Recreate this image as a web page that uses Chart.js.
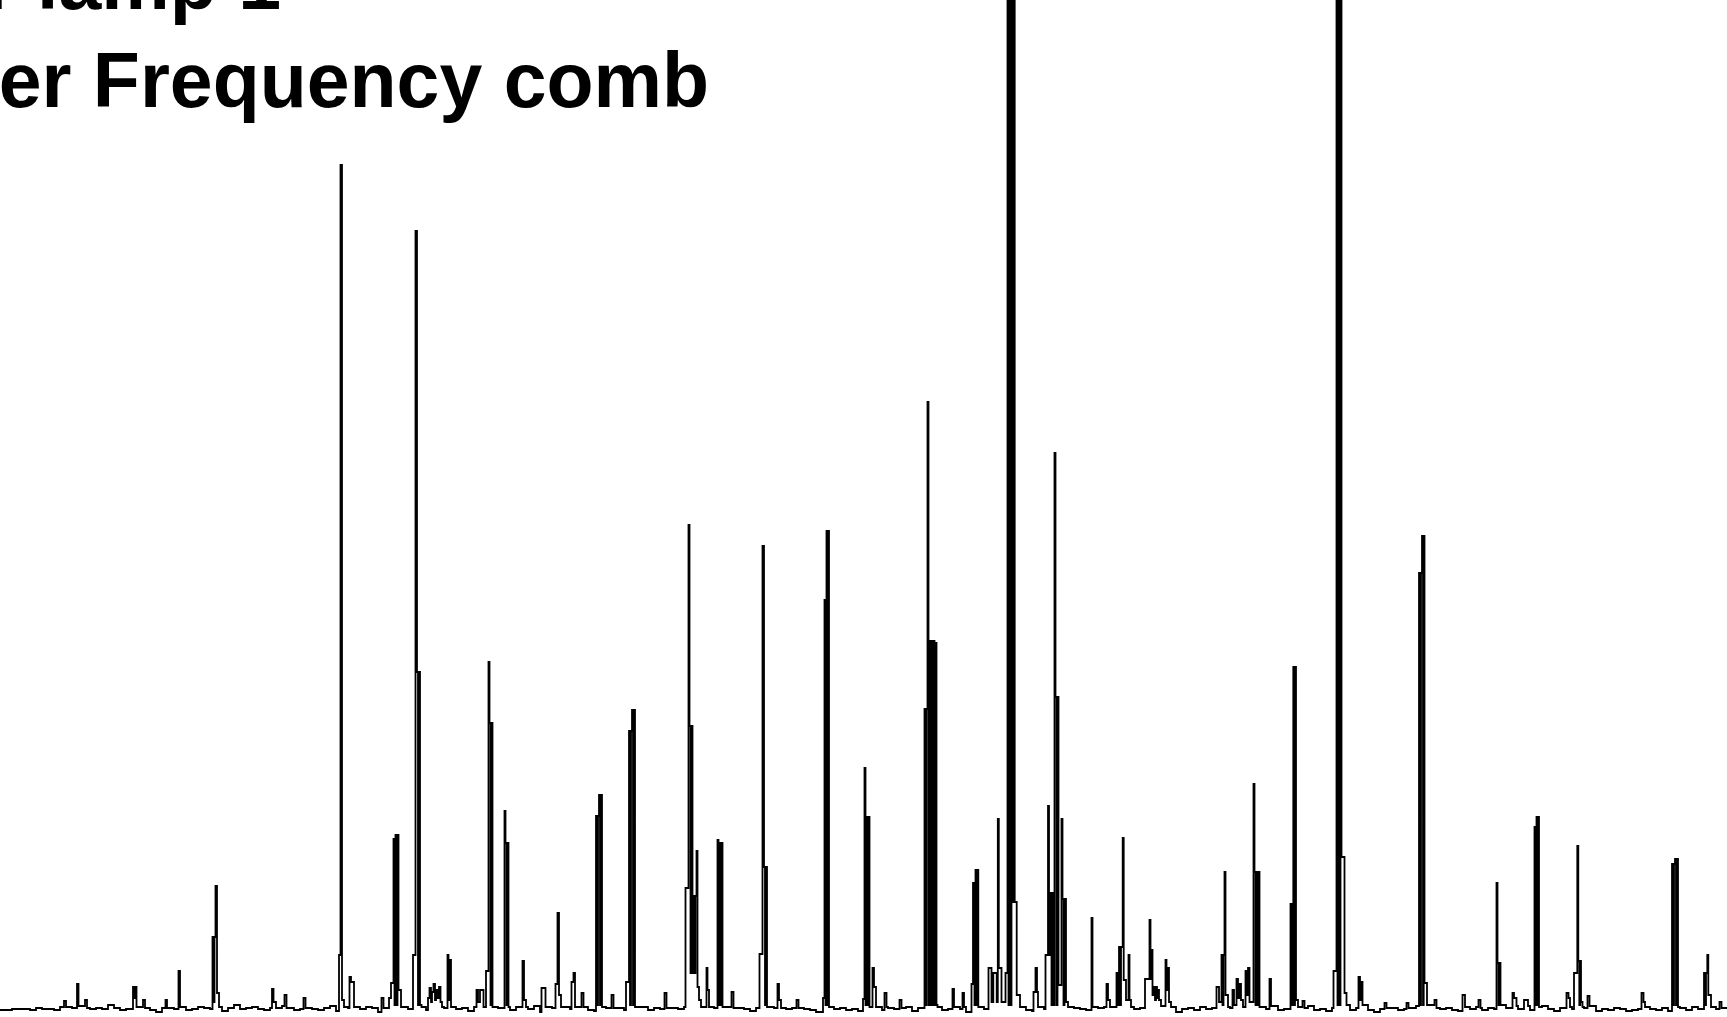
<!DOCTYPE html>
<html>
<head>
<meta charset="utf-8">
<title>ThAr lamp 1 - Laser Frequency comb</title>
<script src="https://cdn.jsdelivr.net/npm/chart.js@4.4.1/dist/chart.umd.min.js"></script>
<style>
  html, body { margin: 0; padding: 0; background: #fff; overflow: hidden; }
  #wrap { position: relative; width: 1727px; height: 1017px; }
  #spectrum { position: absolute; left: 0; top: 0; }
  .title {
    position: absolute; white-space: nowrap; pointer-events: none;
    font-family: "Liberation Sans", Arial, Helvetica, sans-serif;
    font-weight: bold; font-size: 77px; line-height: 77px; color: #000;
  }
</style>
</head>
<body>
<div id="wrap">
  <canvas id="spectrum" width="1727" height="1017"></canvas>
  <div class="title" id="line1" style="left:-164px; top:-56px;">ThAr lamp 1</div>
  <div class="title" id="line2" style="left:-134px; top:42px;">Laser Frequency comb</div>
</div>
<script>
// --- data: spectrum (channel, counts) ---
const channelMax = 1727;
const noiseSpacing = 6; // background sampled every 6 channels

// background level, one value per 6 channels
const noiseLevel = [
  0,0,1,1,1,0,2,1,1,0,3,1,
  2,1,4,1,2,1,5,2,0,1,2,3,
  1,0,-2,2,3,1,2,0,1,3,2,1,
  0,-1,2,5,1,2,3,1,0,2,1,4,
  2,0,1,3,1,0,2,4,-1,1,2,0,
  1,3,2,-2,1,4,0,2,1,3,2,0,
  3,1,2,0,1,2,-1,3,2,1,0,2,
  1,0,3,2,1,4,-2,1,2,0,3,1,
  2,1,0,-1,3,2,1,2,0,2,1,3,
  0,2,1,-3,2,1,3,0,2,1,4,2,
  1,3,0,2,1,-1,2,1,3,2,0,1,
  2,4,1,0,-2,2,3,1,2,0,1,-1,
  2,1,3,0,2,1,4,3,-1,2,1,3,
  2,0,1,3,1,-2,2,4,1,0,2,3,
  2,1,3,0,-1,2,1,3,2,0,1,2,
  1,0,-1,2,3,1,0,2,4,1,2,3,
  2,1,3,0,-2,1,2,0,3,1,2,0,
  1,2,3,1,0,2,-1,1,2,0,1,3,
  2,1,4,0,1,-1,2,1,3,0,2,1,
  0,-2,1,3,2,0,1,2,4,1,0,3,
  1,2,0,-1,2,1,3,0,2,1,0,2,
  3,1,2,0,1,4,1,-1,2,0,1,3,
  2,0,-1,1,0,2,1,-1,0,1,3,1,
  0,2,-1,1,2,0,3,1,4,2,1,3
];

// emission lines: [channel, counts] steps, each ending back near background
const emissionLines = [
  [[64,9],[66,3]],
  [[77,26],[78.5,4]],
  [[85,10],[87,2]],
  [[133,23],[134,12],[135,23],[136.5,3]],
  [[143,10],[145,2]],
  [[165.5,10],[167,2]],
  [[178.5,39],[180,3]],
  [[212.5,73],[213.5,8],[214.5,73],[215.5,124],[217,17],[219,3]],
  [[272,21],[273.5,8],[276,2]],
  [[284.5,15],[286.5,2]],
  [[303.5,12],[305.5,2]],
  [[339,55],[340.5,845],[342,10],[344,3]],
  [[349.5,33],[351,28],[354,3]],
  [[381.5,12],[383.5,2]],
  [[389,12],[391,27],[393.5,171],[394.5,5],[395.5,175],[396.5,5],[397.5,175],[398.5,20],[401,3]],
  [[413,55],[415.5,779],[417,338],[418,5],[419,338],[420,5],[421.5,3]],
  [[428,12],[429.5,22],[431,8],[432,18],[433.5,26],[435,10],[436,20],[437.5,12],[439,23],[440.5,8],[442,3]],
  [[447.5,55],[448.5,10],[449.5,50],[451,3]],
  [[476.5,20],[478,8],[480,20],[483.5,3]],
  [[486,39],[488.5,348],[489.5,287],[490.5,5],[491.5,287],[492.5,3]],
  [[504.5,199],[505.5,167],[506.5,5],[507.5,167],[508.5,3]],
  [[522.5,49],[524,10],[526,3]],
  [[541.5,22],[545.5,3]],
  [[555.5,26],[557.5,97],[559,15],[561,3]],
  [[571.5,28],[573.5,37],[575,3]],
  [[581.5,17],[583.5,3]],
  [[596,194],[597,5],[598,194],[599,215],[600,5],[601,215],[602,3]],
  [[611.5,15],[613.5,2]],
  [[626,28],[629,279],[630,5],[631,279],[632,300],[633,5],[634,300],[635,3]],
  [[664.5,17],[666.5,2]],
  [[685.5,122],[688.5,485],[689.5,284],[690.5,37],[691.5,284],[692.5,37],[693.5,114],[694.5,37],[695.5,114],[696.5,159],[697.5,23],[699,10],[701,3]],
  [[706.5,42],[707.5,20],[709,3]],
  [[717.5,170],[718.5,5],[719.5,167],[720.5,5],[721.5,167],[722.5,3]],
  [[731.5,18],[733.5,2]],
  [[759.5,56],[762.5,464],[764,143],[765,5],[766,143],[767,3]],
  [[777.5,26],[779,10],[781,2]],
  [[796.5,10],[798.5,2]],
  [[823,12],[824.5,410],[825.5,5],[826.5,479],[827.5,5],[828,479],[829,3]],
  [[863,11],[864.5,242],[865.5,5],[866.5,193],[867.5,5],[868.5,193],[869.5,3]],
  [[872.5,42],[874,23],[876,3]],
  [[884.5,17],[886.5,3]],
  [[899.5,10],[901.5,2]],
  [[924.5,301],[925.5,5],[926.5,301],[927.5,608],[928.5,5],[929.5,369],[930.5,5],[931.5,369],[932.5,5],[933.5,369],[934.5,5],[935.5,367],[936.5,5],[937.5,3]],
  [[952.5,21],[954,3]],
  [[962.5,17],[964,3]],
  [[971.5,26],[973,127],[974.5,5],[975.5,140],[976.5,5],[977.3,140],[978.3,3]],
  [[988.5,42],[991.5,8],[993.3,37],[996.7,8],[997.8,191],[998.8,42],[1001.5,8],[1005.5,37],
   [1007.5,1200],[1008.5,5],[1009.5,1200],[1010.5,5],[1011.5,1200],[1012.5,108],[1013.5,1200],[1014.7,108],[1016.7,15],[1020,3]],
  [[1033.5,18],[1035.5,42],[1037,18],[1038,3]],
  [[1045.5,55],[1048,204],[1049,55],[1050.5,117],[1051.5,5],[1052.5,117],[1053.5,5],[1054.5,557],[1055.5,313],[1056.5,5],[1057.5,313],[1058.5,25],
   [1061.5,191],[1062.5,111],[1063.5,5],[1064.5,111],[1066,8],[1068,3]],
  [[1091.5,92],[1092.5,3]],
  [[1106.5,26],[1108,10],[1110,3]],
  [[1116.5,37],[1118,5],[1119,63],[1120,5],[1121,63],[1122.7,172],[1123.7,30],[1126,10],[1128.5,55],[1129.5,10],[1131,3]],
  [[1145,31],[1149.5,90],[1150.5,31],[1151.5,60],[1152.5,15],[1154,23],[1155,10],[1156,23],[1157,12],[1158,20],[1159,10],[1161,4],[1165.5,50],[1166.5,20],[1167.5,42],[1169,8],[1171,3]],
  [[1216.5,23],[1219,8],[1221.5,55],[1222.5,5],[1223.5,55],[1224.5,138],[1225.5,15],[1228,3]],
  [[1232.5,20],[1234,5],[1236.5,31],[1238,12],[1239.5,26],[1241,10],[1243,3],[1245.5,39],[1247,15],[1248,42],[1249.5,8],
   [1253.5,226],[1254.5,138],[1255.5,5],[1256.5,138],[1257.5,5],[1258.5,138],[1259.5,3]],
  [[1269.5,31],[1271,4]],
  [[1290.5,106],[1291.5,5],[1292.5,106],[1293.3,343],[1294.3,5],[1295,343],[1296,10],[1298,3]],
  [[1302.5,9],[1304.5,2]],
  [[1333.5,39],[1336.5,1200],[1337.5,5],[1338.5,1200],[1339.5,5],[1340.5,1200],[1341.5,153],[1344.5,17],[1346.5,5]],
  [[1358.5,33],[1360,10],[1361,28],[1362.5,5]],
  [[1384.5,7],[1386.5,2]],
  [[1406.5,7],[1408.5,2]],
  [[1419,437],[1420,5],[1421,437],[1422,474],[1423,5],[1423.7,474],[1424.5,27],[1427,5]],
  [[1434.5,10],[1436.5,2]],
  [[1462.5,15],[1465,3]],
  [[1478.5,10],[1480.5,2]],
  [[1496.5,127],[1497.5,47],[1498.5,5],[1499.5,47],[1500.5,5]],
  [[1512.5,17],[1514,12],[1516.5,4]],
  [[1524,10],[1528,4]],
  [[1534.5,183],[1535.5,5],[1536.5,193],[1537.5,5],[1538,193],[1539,3]],
  [[1566.5,17],[1568.5,12],[1570,3]],
  [[1574,37],[1577.3,164],[1578.3,49],[1579.3,5],[1580.3,49],[1581,8],[1582.5,3]],
  [[1587.5,14],[1589.5,4]],
  [[1641.5,17],[1643.5,8],[1645,3]],
  [[1672,146],[1673,5],[1674,146],[1675,151],[1676,5],[1677,151],[1678,3]],
  [[1704,37],[1705,5],[1706,37],[1707.3,55],[1708.3,15],[1711,3]],
  [[1719.5,8],[1721.5,2]]
];

// --- build the step table: background points outside the lines + line points ---
const lineSpans = emissionLines.map(g => [g[0][0], g[g.length - 1][0]]);
const points = [];
noiseLevel.forEach((v, i) => {
  const ch = i * noiseSpacing;
  if (!lineSpans.some(([a, b]) => ch >= a - 1 && ch <= b + 1)) points.push({ x: ch, y: v });
});
emissionLines.forEach(g => g.forEach(([x, y]) => points.push({ x: x, y: y })));
points.push({ x: channelMax, y: 2 });
points.sort((a, b) => a.x - b.x);

// --- chart ---
const ctx = document.getElementById('spectrum').getContext('2d');
const chart = new Chart(ctx, {
  type: 'line',
  data: {
    datasets: [{
      data: points,
      stepped: true,
      borderColor: '#000',
      borderWidth: 1.8,
      pointRadius: 0,
      fill: false,
      tension: 0
    }]
  },
  options: {
    responsive: false,
    animation: false,
    events: [],
    layout: { padding: 0 },
    plugins: { legend: { display: false }, tooltip: { enabled: false }, title: { display: false } },
    scales: {
      x: { type: 'linear', min: 0, max: channelMax, display: false },
      y: { min: -7, max: 1010, display: false }
    }
  }
});
</script>
</body>
</html>
